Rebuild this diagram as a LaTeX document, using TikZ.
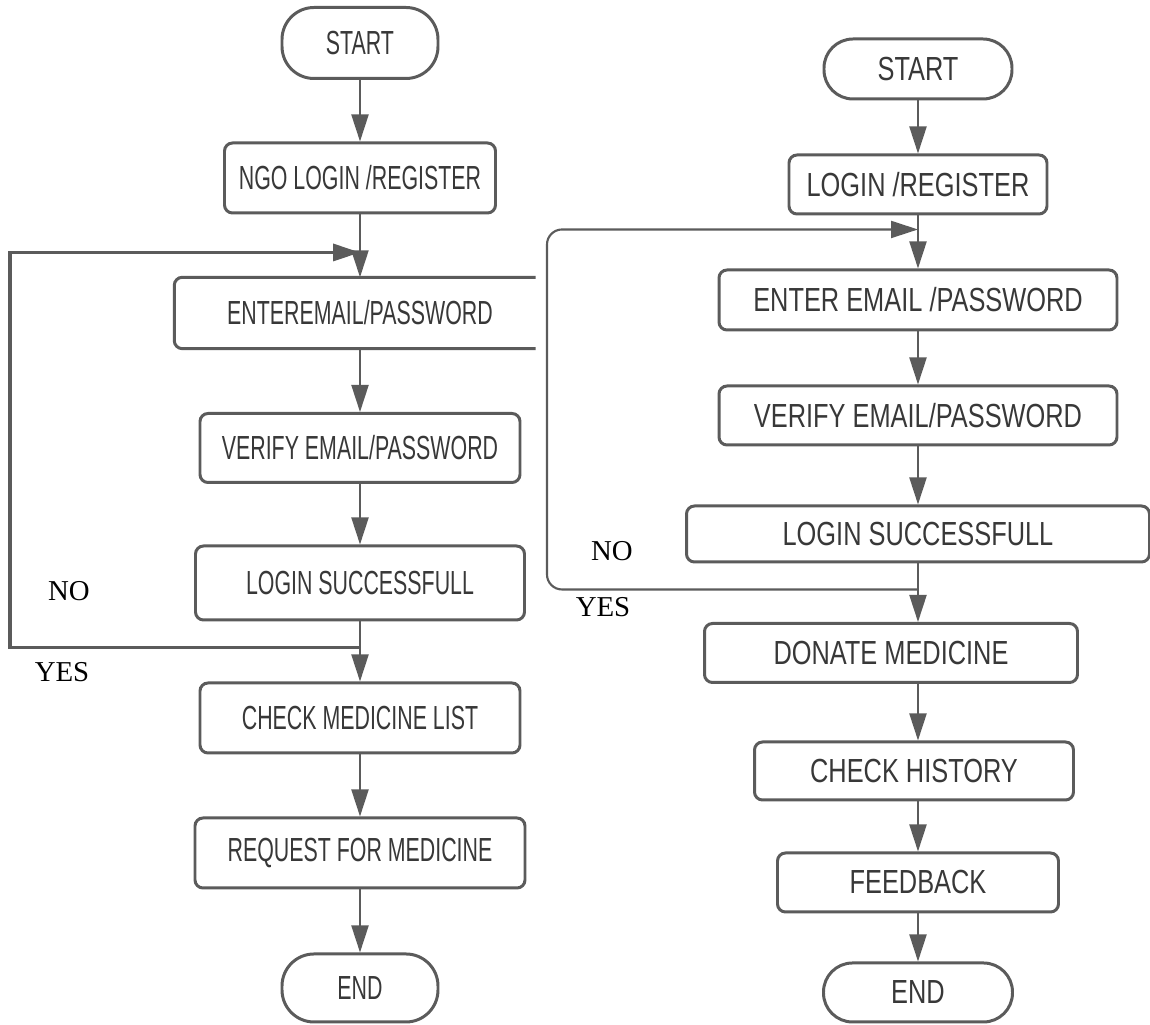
\documentclass[tikz,border=0pt]{standalone}
\usepackage{fontspec}
\usepackage{tikz}
\usetikzlibrary{positioning, arrows.meta, calc}
\newfontfamily\leftfont[FakeStretch=0.64]{Liberation Sans}
\newfontfamily\rightfont[FakeStretch=0.76]{Liberation Sans}
\newfontfamily\labelfont{Liberation Serif}
\definecolor{linegray}{HTML}{5B5B5B}
\definecolor{textgray}{HTML}{383838}
\tikzstyle{stepbox} = [rectangle, rounded corners=0.8mm, draw=linegray, line width=0.85pt, text=textgray, minimum height=6.8mm, inner sep=0pt]
\tikzstyle{terminal} = [stepbox, rounded corners=3.2mm]
\tikzstyle{leftcol} = [font=\leftfont\fontsize{9.5}{11}\selectfont]
\tikzstyle{rightcol} = [font=\rightfont\fontsize{9.5}{11}\selectfont]
\tikzstyle{arrow} = [line width=0.6pt, draw=linegray, -{Triangle[width=1.7mm,length=2.7mm]}]
\tikzstyle{answer} = [font=\labelfont\fontsize{8.2}{10}\selectfont, inner sep=0pt]

\begin{document}
\begin{tikzpicture}[x=0.1mm, y=-0.1mm, node distance=13.5mm]
        \useasboundingbox (0,0) rectangle (1150,1025);

        % NGO flow
        \node (startL) [terminal, leftcol, minimum width=15.6mm, minimum height=7.1mm] at (360,43) {START};
        \node (ngoL) [stepbox, leftcol, below of=startL, minimum width=27.1mm, minimum height=7mm] {NGO LOGIN /REGISTER};
        \node (enterL) [leftcol, text=textgray, below of=ngoL, minimum width=37mm, minimum height=7mm, inner sep=0pt] {ENTEREMAIL/PASSWORD};
        \node (verifyL) [stepbox, leftcol, below of=enterL, minimum width=32mm, minimum height=6.9mm] {VERIFY EMAIL/PASSWORD};
        \node (loginL) [stepbox, leftcol, below of=verifyL, minimum width=32.9mm, minimum height=7.4mm] {LOGIN SUCCESSFULL};
        \node (checkL) [stepbox, leftcol, below of=loginL, minimum width=32mm, minimum height=7mm] {CHECK MEDICINE LIST};
        \node (requestL) [stepbox, leftcol, below of=checkL, minimum width=33mm, minimum height=7mm] {REQUEST FOR MEDICINE};
        \node (endL) [terminal, leftcol, below of=requestL, minimum width=15.6mm, minimum height=6.8mm] {END};

        \draw [line width=0.85pt, draw=linegray, rounded corners=0.8mm] ([xshift=-1mm]enterL.north east) -- (enterL.north west) -- (enterL.south west) -- ([xshift=-1mm]enterL.south east);

        \draw [arrow] (startL) -- (ngoL);
        \draw [arrow] (ngoL) -- (enterL);
        \draw [arrow] (enterL) -- (verifyL);
        \draw [arrow] (verifyL) -- (loginL);
        \draw [arrow] (loginL) -- (checkL);
        \draw [arrow] (checkL) -- (requestL);
        \draw [arrow] (requestL) -- (endL);

        \coordinate (splitL) at ([yshift=-2.6mm]loginL.south);
        \coordinate (mergeL) at ([yshift=-3.8mm]ngoL.south);
        \draw [arrow, line width=1pt] (splitL) -- ++(-350,0) |- (mergeL);
        \node (noL) [answer] at (69,591) {NO};
        \node (yesL) [answer] at (62,672) {YES};

        % donor flow
        \begin{scope}[node distance=11.55mm]
        \node (startR) [terminal, rightcol, minimum width=18.8mm, minimum height=6mm, rounded corners=2.9mm] at (918,69) {START};
        \node (regR) [stepbox, rightcol, below of=startR, minimum width=25.8mm, minimum height=5.9mm] {LOGIN /REGISTER};
        \node (enterR) [stepbox, rightcol, below of=regR, minimum width=39.8mm, minimum height=6mm] {ENTER EMAIL /PASSWORD};
        \node (verifyR) [stepbox, rightcol, below of=enterR, minimum width=39.8mm, minimum height=5.9mm] {VERIFY EMAIL/PASSWORD};
        \node (loginR) [stepbox, rightcol, below of=verifyR, node distance=11.85mm, minimum width=46.3mm, minimum height=5.6mm] {LOGIN SUCCESSFULL};
        \node (donateR) [stepbox, rightcol, below of=loginR, node distance=11.9mm, xshift=-2.7mm, minimum width=37.3mm, minimum height=5.9mm] {DONATE MEDICINE};
        \node (checkR) [stepbox, rightcol, below of=donateR, node distance=11.8mm, xshift=2.3mm, minimum width=31.9mm, minimum height=5.8mm] {CHECK HISTORY};
        \node (feedR) [stepbox, rightcol, below of=checkR, node distance=11.15mm, xshift=0.4mm, minimum width=28.1mm, minimum height=5.9mm] {FEEDBACK};
        \node (endR) [terminal, rightcol, below of=feedR, node distance=11mm, minimum width=18.9mm, minimum height=5.9mm, rounded corners=2.9mm] {END};
        \end{scope}

        \draw [arrow] (startR) -- (regR);
        \draw [arrow] (regR) -- (enterR);
        \draw [arrow] (enterR) -- (verifyR);
        \draw [arrow] (verifyR) -- (loginR);
        \draw [arrow] (loginR.south) -- (loginR.south |- donateR.north);
        \draw [arrow] (donateR.south -| startR.south) -- (startR.south |- checkR.north);
        \draw [arrow] (checkR.south -| startR.south) -- (feedR);
        \draw [arrow] (feedR) -- (endR);

        \coordinate (splitR) at ([yshift=-2.6mm]loginR.south);
        \coordinate (mergeR) at ([yshift=-1.4mm]regR.south);
        \draw [arrow, rounded corners=1.5mm] (splitR) -- ++(-371,0) |- (mergeR);
        \node (noR) [answer] at (612,551) {NO};
        \node (yesR) [answer] at (603,607) {YES};

\end{tikzpicture}
\end{document}
